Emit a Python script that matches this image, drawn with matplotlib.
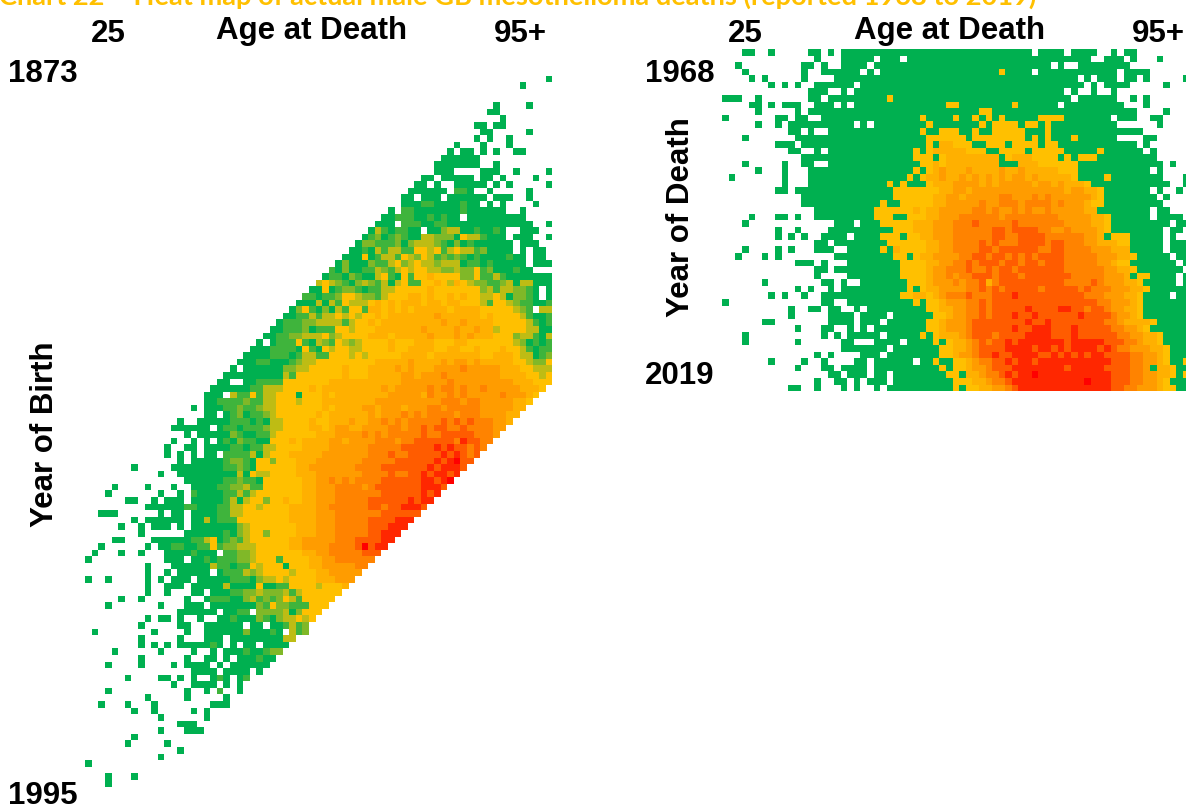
import matplotlib
matplotlib.use("Agg")
import matplotlib.pyplot as plt
import numpy as np
from matplotlib.colors import LinearSegmentedColormap

# each row: first column, then colour levels (. = no deaths, 0 green, 4 amber, a red)
birth_rows = [
    "70 0", "66 0", "", "", "62 0....0", "61 00", "63 0", "59 0 0.00", "60 00.....0", "59 0 .0..0",
    "56 0...0...0", "55 0.00.0.0..00", "54 000000", "53 0000000..0", "53 000....000..0....0",
    "51 00.00000.00.0....0", "50 00.0..00000.0.0.....0", "49 000000.110..0.....0",
    "48 00.000.000000.000..0", "48 000110000100.0.0....0", "46 0.1100000001000000..0",
    "45 00111001010 0.000000000", "44 000.11100110000000000000..0",
    "43 0310110 0.002330010 010..000", "42 01201210 0332220433 1000.000.. 0",
    "41 022111202 3332102010 00000.000.", "40 0010313311 4434134331 20000.0.00",
    "39 0 0040133143 2431212101 0000100.00", "38 02 0002113423 4332333011 0100000.00 0",
    "37 102 0011321343 4433223224 1200010 0..", "36 0110 2100341041 4454444224 1131000000 0",
    "35 34321 0232130341 1445435432 2112303300 0", "34 004012 2101133444 4454444444 231332210. 0",
    "33 1101124 4322134445 5454454544 334302210. 0", "32 00030314 3334545455 5455455444 3144321100 1",
    "31 024102031 4415545454 5555545555 44444321.3 3", "30 0011313343 4344545555 5556555555 4544443100 1",
    "29 0 1112233331 3445455555 5555655655 5544444310 1", "28 00 1112011144 3444555555 5655556556 5534444330 0",
    "27 001 1223334234 4445554555 5565556565 5544423310 3", "26 0.01 1141032143 2344445444 5554445544 4444432010 1",
    "25 00011 1104104344 3344445445 5554455445 4445443101 1", "24 000011 1013311444 3434444455 5545555555 4455543301 2",
    "23 0001100 0123344444 4444555556 5555656656 5555544322 4", "22 0.000000 2233444445 4445555656 5556666766 6665554433 3",
    "21 000000000 3144444445 4445555566 5666766666 6665555443 4", "20 00..001111 4444444555 5555555566 6666676666 6666655544 4",
    "19 0 0000011333 4444545555 5555565666 6676776766 7666665554", "18 00 0.31141334 4404445455 5555556666 6576676766 666766654",
    "18 00 1111211334 4434445555 5555666666 6666777677 66666554", "16 0.00 0112112334 4444445455 5566566656 6677677777 6666655",
    "18 00 .012011234 4444454555 5556566676 7677776777 666655", "14 0..000 0011101033 4444544555 6556676767 7777878787 77665",
    "13 000000. 0110111233 4444554566 5566667767 7878877877 7766", "15 0.000 0021001134 4444455566 6676767777 7877888887 776",
    "13 0..0.0. 0102110044 4545555665 6666777677 8888887988 77", "12 0..00.00 0011011334 4445555666 6667777788 8889898878 7",
    "12 0.0.0.00 .111130344 4555556666 6667778778 8888989878", "14 0.0000 0122104424 4455566666 6677777888 888989a88",
    "7 0.. ...0000000 0112104444 4455666666 6777788888 88989998", "11 0..000000 0003043344 4455566666 6677778778 8989989",
    "15 00000 0112110444 4445566767 6777788888 89989a", "4 0....0...0..0000 1122311444 4445566677 7767888888 89998",
    "3 0.......0..0.1000 0113134444 4445566677 7777788888 8989", "6 00..0.000.0000 0130344244 5445566677 7778888889 899",
    "9 0 0000011000 1133443444 4555566777 7778878899 98", "2 000......0.00.0000 1133444444 4555566677 7777788888 8",
    "7 0.000000.0030 1114444444 4555566677 7778888999", "5 0..0.000.0.0000 0002344444 4455566677 777888999",
    "8 0......00000 0102344244 4455566677 77788999", "4 00....0000001134 0121344444 4556666677 7888899",
    "2 0......0.0 01100114 1223334444 4556666777 78a899", "1 0...0..0...00001000 .112234444 4445566777 77888",
    "0 0........... 000.0010 1112234441 4444556677 7777", "9 0...0000003 1101143444 0444556666 677",
    "9 0..0.00000. 0111323444 4344455666 66", "0 0..0.....0.0.000.000 0011102334 3444455566 6",
    "9 0..000.0000 0300004001 1444434445", "9 0..0...00.0 0011223222 313444444",
    "5 0..0......0..01 1100231212 43144444", "3 0.......0...000.0 0000002142 2111444",
    "14 000000 .0011.2222 302444", "9 0.00.0..0.. 0010002102 33434",
    "8 0.....00..00 0000.00.00 1312", "1 0........0....0..00 00002 00010. 312",
    "8 0.....0...00 0.00000000 33", "8 0.0.0.000001 0.0.00.000 0",
    "4 0......0....0..0 .000100122", "8 0......0..00 .0.000100",
    "3 0....0....0.0000. 0.000000", "16 0000 .0000.0", "6 0....00.0.0..0 10.01", "13 0..0000 .0.0",
    "3 0...........0..0. 1..0", "9 0.....0.....0", "2 0...0...0........000", "7 0..0.....0.0",
    "11 0......0", "14 000", "11 0...000", "7 0", "6 0.....0", "14 0", "11 0", "0 0", "", "3 0...0", "3 0",
]

death_rows = [
    "3 00..0.. ...00.0.00 0000000000 0000000000 0000000.00 00.0000..0 .00",
    "14 0...00 000.000.00 0000000000 0000000000 000000..00 0.0...0...",
    "2 0....... ..00.0..00 00.0000000 0000000000 0000000000 .0..000000 00",
    "3 0...... ..0..00000 0.0.000000 0000000000 0040000.00 0000000000 .0000",
    "4 0.0... ..0....000 0000000000 0000000000 0000000000 0000.0.000 .00.0..... 0",
    "7 0.0 .0..000000 .000000000 0000000000 0000000000 00000.0.00 00.....0..",
    "13 000..0. 0000000000 0000000000 0000000000 00.0..0..0",
    "0 000..0.... ...00.0000 0000040000 0000000000 0000000000 000.000000 ..0.0.....",
    "4 00.0.0 00..000.0. 0000000000 0000440000 0000400000 0.00000000 0...0.....",
    "5 0.... .0.0000000 0000000000 0000000004 4000000000 0000000000 000....0..",
    "0 0.......00 .00..00000 0000000000 4000040040 4040000044 440000000. 000..00...",
    "5 0..0. 0000000000 .0.0000000 0400000004 0444404404 0000000000 ......0...",
    "10 00.0..0000 0000000000 4004440040 0444440004 0000000000 0000",
    "3 0...... .000000000 0000000000 0444444044 4444440404 0004000000 ....00....",
    "8 00 0.00000000 0000000000 0405544400 4440444404 4000000000 000.0.....",
    "10 00..0.0000 0000000004 0455555444 0044440444 4400000400 0000.0....",
    "12 00000000 0000000004 4404555555 5504555444 4040444000 000000",
    "3 0.....0 ..00..0000 0000000000 4454555555 5500055544 4444000000 0000000.0.",
    "5 0...0 ...0000000 0000000004 0456555655 5565565555 5444000000 00000.0",
    "1 0.......0 ...0000000 0000000040 4556556565 6565665655 5554000040 0000000... 0",
    "9 0 ...0000000 0000040400 0455566665 6566666566 5655540000 00000000.. 0",
    "8 00 .000000000 0000004444 4445566566 6666666666 6656655400 00000.0..0",
    "12 00000000 0000004444 4455665666 6677666767 6666665400 000000.0..",
    "12 00000000 0000400444 4455666667 6677767777 6766654400 0000000...",
    "14 000000 0004444445 4556666677 6766767667 6666655000 00000.00..",
    "4 0...00 .0..000000 0004440044 4556667777 7767777777 7666665540 00000.0000 .",
    "3 0...... .......000 .000444445 5566677787 7777877777 7766665540 00000000.0 0",
    "8 0. .0....0000 0000004445 5566677777 7887888877 6676666540 0000000.00 .",
    "8 0. 0.0..0000. 0000444044 5566677777 7887788887 7777766504 4400000.0. .",
    "14 00.000 0000044444 4556677778 7877788887 8877766555 4400000.00 0",
    "3 0....0. 0...000..0 0000405444 4556677778 8788888877 8877776665 5500000.00 0",
    "2 0...0.0. .......000 0000004404 5566667788 7887878788 8877777666 55400000.0 0",
    "11 000.0...0 0000000444 4556677878 8878878878 8877777665 440000000. 0",
    "14 00.000 0000000444 4566777877 8788788888 8877777766 5540000000 .",
    "14 0....0 0000000444 4566767788 8788878888 8887777766 650440000. 0",
    "6 0... .....00.0. .000000044 4566676778 5788888888 8877778766 655400000. 0",
    "11 0.0..0.00 0000000040 4556666778 7878888878 8888787776 6655400000 0",
    "7 0.0 ..0..00000 0000000445 5456777877 7888988888 8888877766 65540000.0 0",
    "0 0......... .....00..0 0000000004 0445666778 7888888888 8888888776 6654000000 0",
    "10 0..00.00.. 0.00000000 0445566778 7888889888 8998878876 6554000000 0",
    "10 0.....0000 .0000.0000 0044566778 7888988988 8888988887 6654000000 0",
    "6 00.. ......0000 .000.00000 0445666788 8888889889 8888888877 6555540000 0",
    "11 0...00..0 .0.0000000 0445666788 8888988999 8889888887 7665400000 0",
    "3 0...... .....0.0.0 0000.00000 4045556788 8788889999 8889888888 7766554000 0",
    "3 0...... .0......00 ...0000.00 0040455678 7889899999 9989999988 8776554000 0",
    "18 00 00000.0000 0004455678 8889999899 8989999898 7766655400 0",
    "14 0.0... .000.00000 0004456678 8988999988 9898989988 8877665400 0",
    "7 0.. ..0..0.... 00.000000. 0040044567 7889899899 9999999998 8877665400 4",
    "11 0...00.00 00.0000000 0004044566 7888999999 9989999988 8877605540 0",
    "16 00.0 00.00.0000 0000440556 7789899a99 9999999998 8877665540 4",
    "14 0..00. 0.000.0000 0000044455 6778999999 99999a9998 8877665400 0",
    "10 00..0...0. 0..0.00000 0000040445 5667899999 9999999998 8776665440 0",
]

age_labels = ["25", "95+"]
birth_labels = ["1873", "1995"]
death_labels = ["1968", "2019"]
title = "Chart 22 \u2013 Heat map of actual male GB mesothelioma deaths (reported 1968 to 2019)"

W, H = 1186, 806
CELL = 6.58
cmap = LinearSegmentedColormap.from_list(
    "deaths", [(0, "#00B050"), (0.4, "#FFC000"), (0.5, "#FFB000"), (0.6, "#FF9C00"),
               (0.7, "#FF8400"), (0.8, "#FF5C00"), (0.9, "#FF2800"), (1, "#FF0000")])


def parse_rows(rows):
    grid = np.full((len(rows), 71), np.nan)
    for i, row in enumerate(rows):
        parts = row.split()
        if not parts:
            continue
        start = int(parts[0])
        for j, ch in enumerate("".join(parts[1:])[:71 - start]):
            if ch != ".":
                grid[i, start + j] = int(ch, 16)
    return grid


def heat_axes(fig, left, top, grid):
    nrows, ncols = grid.shape
    ax = fig.add_axes([left / W, 1 - (top + nrows * CELL) / H,
                       ncols * CELL / W, nrows * CELL / H])
    ax.pcolormesh(np.arange(ncols + 1), np.arange(nrows + 1), grid,
                  cmap=cmap, vmin=0, vmax=10, antialiased=False)
    ax.set_xlim(0, ncols)
    ax.set_ylim(nrows, 0)
    ax.axis("off")
    return ax


def label(fig, x, y, s, va="baseline", **kw):
    fig.text(x / W, 1 - y / H, s, family="Liberation Sans", weight="bold",
             fontsize=22.5, ha="center", va=va, color="black", **kw)


fig = plt.figure(figsize=(W / 100, H / 100), dpi=100)

heat_axes(fig, 85.3, 75.9, parse_rows(birth_rows))
heat_axes(fig, 722.3, 49, parse_rows(death_rows))

fig.text(-1 / W, 1 - 5 / H, title, family="Lato", weight="bold", fontsize=19.6,
         color="#FFC000", ha="left", va="baseline")

label(fig, 108, 42, age_labels[0])
label(fig, 312, 39.5, "Age at Death")
label(fig, 520, 42, age_labels[1])
label(fig, 43, 82, birth_labels[0])
label(fig, 43, 804, birth_labels[1])
label(fig, 45, 434, "Year of Birth", va="center", rotation=90)

label(fig, 745, 42, age_labels[0])
label(fig, 950, 39.5, "Age at Death")
label(fig, 1158, 42, age_labels[1])
label(fig, 680, 82, death_labels[0])
label(fig, 680, 384, death_labels[1])
label(fig, 681, 217, "Year of Death", va="center", rotation=90)

fig.savefig("out.png", dpi=100)
